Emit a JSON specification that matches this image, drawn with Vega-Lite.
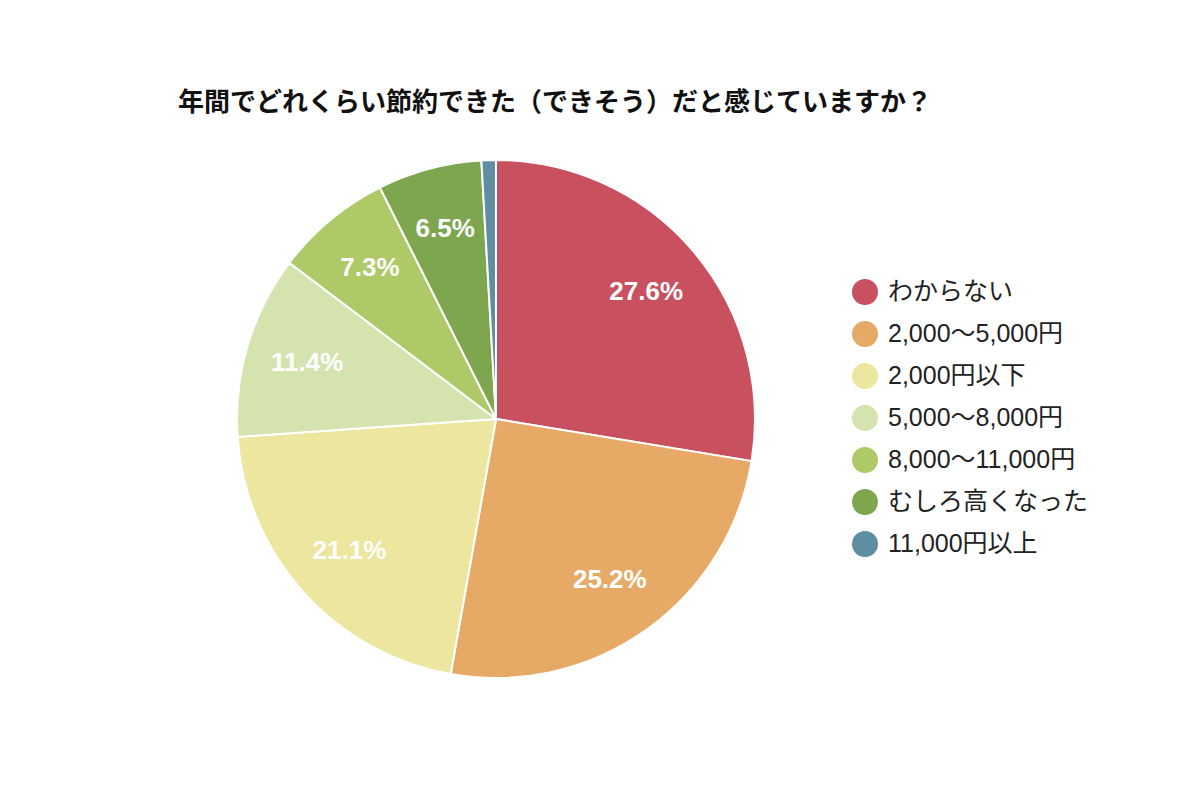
{
  "$schema": "https://vega.github.io/schema/vega-lite/v6.json",
  "autosize": {"type": "none"},
  "padding": {"left": 0, "top": 120, "right": 208, "bottom": 0},
  "width": 992,
  "height": 598,
  "background": "white",
  "title": {
    "text": "年間でどれくらい節約できた（できそう）だと感じていますか？",
    "anchor": "start",
    "dx": 178,
    "offset": 4,
    "font": "Noto Sans CJK JP",
    "fontSize": 26,
    "fontWeight": "bold",
    "color": "#111111"
  },
  "data": {
    "values": [
      {"category": "わからない", "value": 27.6, "order": 1},
      {"category": "2,000〜5,000円", "value": 25.2, "order": 2},
      {"category": "2,000円以下", "value": 21.1, "order": 3},
      {"category": "5,000〜8,000円", "value": 11.4, "order": 4},
      {"category": "8,000〜11,000円", "value": 7.3, "order": 5},
      {"category": "むしろ高くなった", "value": 6.5, "order": 6},
      {"category": "11,000円以上", "value": 0.9, "order": 7}
    ]
  },
  "encoding": {
    "theta": {"field": "value", "type": "quantitative", "stack": true},
    "order": {"field": "order", "type": "quantitative"},
    "color": {
      "field": "category",
      "type": "nominal",
      "sort": null,
      "scale": {
        "domain": ["わからない", "2,000〜5,000円", "2,000円以下", "5,000〜8,000円", "8,000〜11,000円", "むしろ高くなった", "11,000円以上"],
        "range": ["#c8505f", "#e6aa66", "#ece69f", "#d5e3af", "#aec967", "#7ea64f", "#5e8ea0"]
      },
      "legend": {
        "title": null,
        "orient": "none",
        "legendX": 852,
        "legendY": 159,
        "symbolType": "circle",
        "symbolSize": 676,
        "symbolStrokeWidth": 0,
        "symbolOpacity": 1,
        "labelFont": "Liberation Sans, Noto Sans CJK JP",
        "labelFontSize": 25,
        "labelColor": "#222222",
        "labelOffset": 10,
        "labelLimit": 400,
        "rowPadding": 16
      }
    }
  },
  "layer": [
    {
      "mark": {"type": "arc", "outerRadius": 259, "stroke": "white", "strokeWidth": 2}
    },
    {
      "transform": [
        {"filter": "datum.value > 1"},
        {"calculate": "format(datum.value, '.1f') + '%'", "as": "label"}
      ],
      "mark": {
        "type": "text",
        "radius": 197,
        "font": "Liberation Sans",
        "fontSize": 26,
        "fontWeight": "bold",
        "fill": "white"
      },
      "encoding": {
        "text": {"field": "label", "type": "nominal"},
        "color": {"value": "white"}
      }
    }
  ],
  "config": {"view": {"stroke": null}}
}
